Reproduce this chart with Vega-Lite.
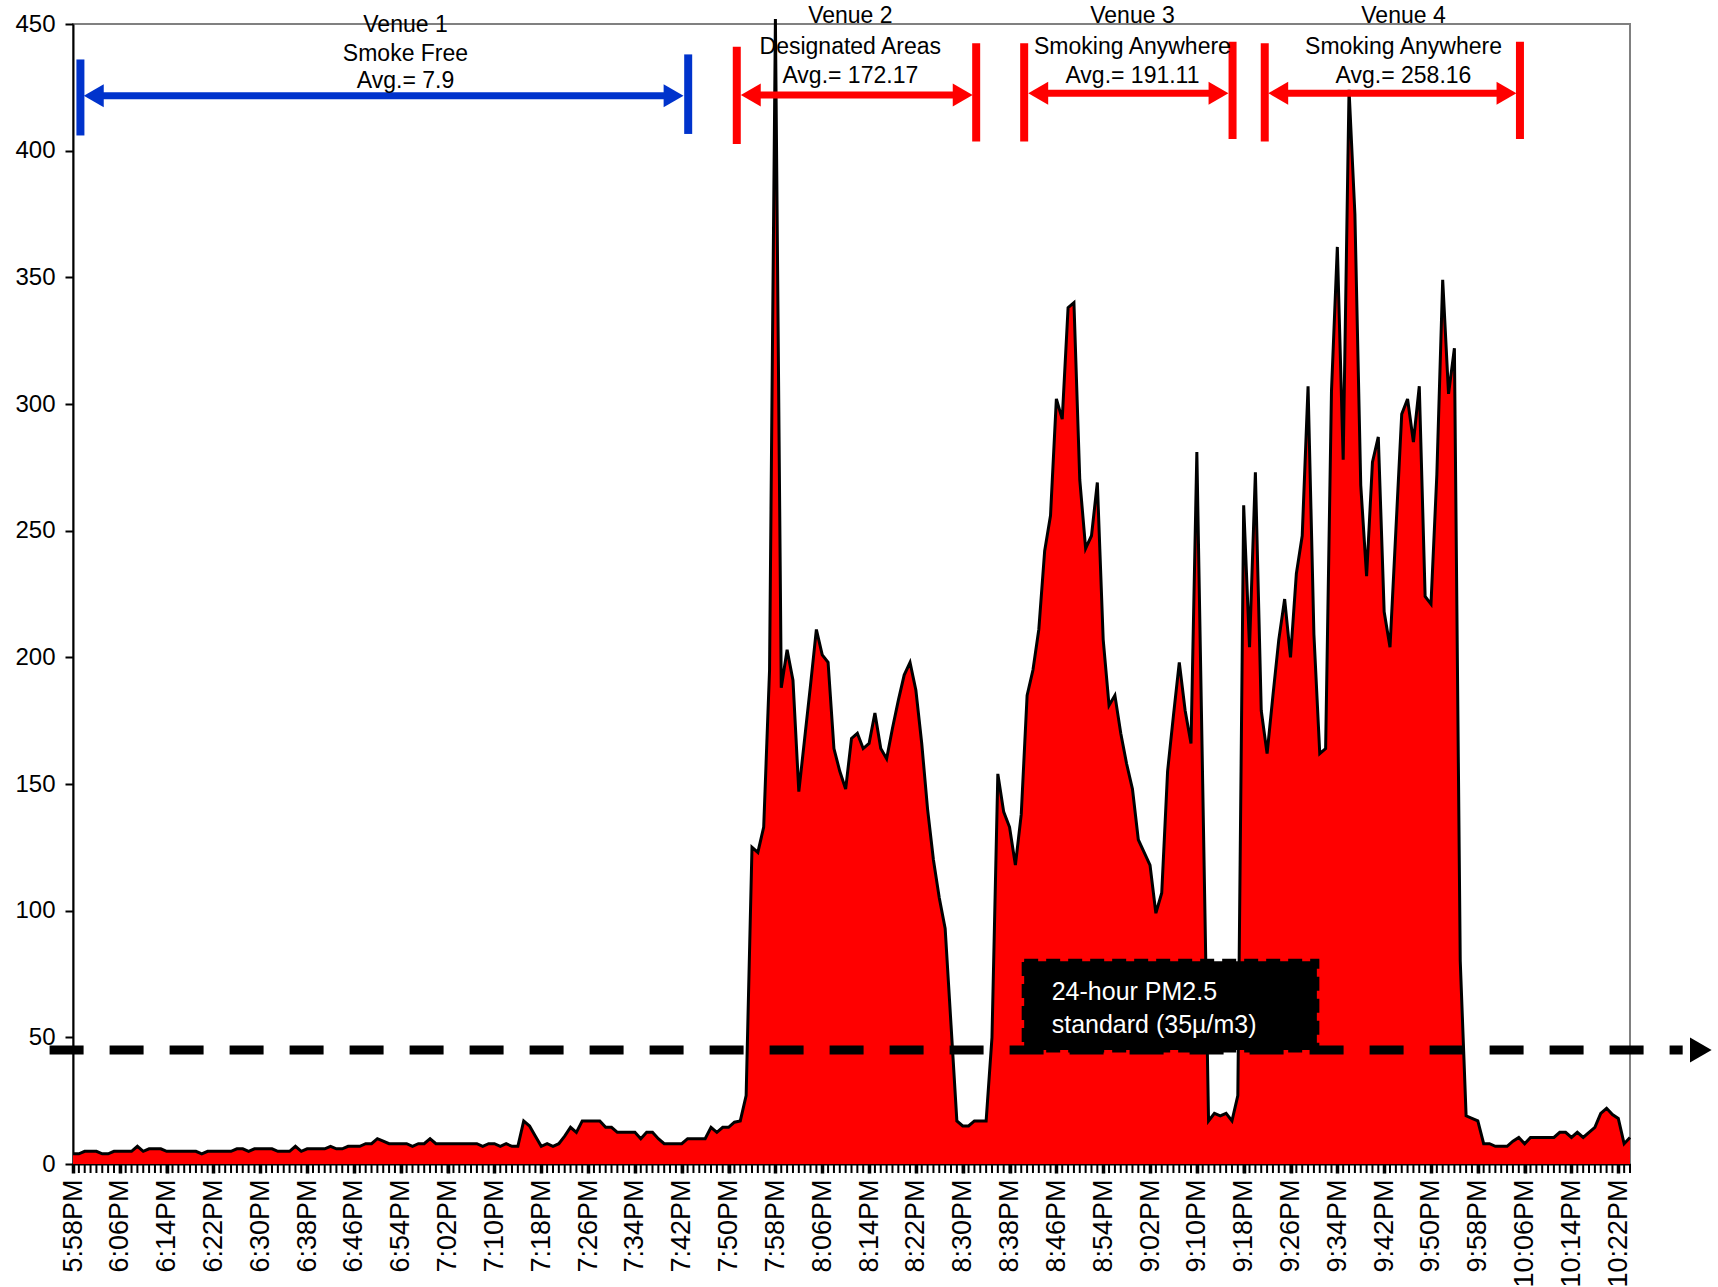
{
"$schema": "https://vega.github.io/schema/vega-lite/v6.json",
"width": 1557, "height": 1140, "autosize": "none",
"padding": {"left": 73, "top": 24, "right": 88, "bottom": 123},
"background": "white",
"config": {"view": {"stroke": "#808080", "strokeWidth": 2}, "font": "Liberation Sans"},
"encoding": {
  "x": {"field": "t", "type": "temporal", "title": null,
    "scale": {"type": "utc", "domain": [{"year": 1900, "month": 1, "date": 1, "hours": 17, "minutes": 58, "utc": true}, {"year": 1900, "month": 1, "date": 1, "hours": 22, "minutes": 24, "utc": true}]},
    "axis": {"format": "%-I:%M%p", "labelAngle": -90, "labelFontSize": 27, "labelFont": "Liberation Sans", "labelColor": "black",
      "values": [
        {"year": 1900, "month": 1, "date": 1, "hours": 17, "minutes": 58, "utc": true},
        {"year": 1900, "month": 1, "date": 1, "hours": 18, "minutes": 6, "utc": true},
        {"year": 1900, "month": 1, "date": 1, "hours": 18, "minutes": 14, "utc": true},
        {"year": 1900, "month": 1, "date": 1, "hours": 18, "minutes": 22, "utc": true},
        {"year": 1900, "month": 1, "date": 1, "hours": 18, "minutes": 30, "utc": true},
        {"year": 1900, "month": 1, "date": 1, "hours": 18, "minutes": 38, "utc": true},
        {"year": 1900, "month": 1, "date": 1, "hours": 18, "minutes": 46, "utc": true},
        {"year": 1900, "month": 1, "date": 1, "hours": 18, "minutes": 54, "utc": true},
        {"year": 1900, "month": 1, "date": 1, "hours": 19, "minutes": 2, "utc": true},
        {"year": 1900, "month": 1, "date": 1, "hours": 19, "minutes": 10, "utc": true},
        {"year": 1900, "month": 1, "date": 1, "hours": 19, "minutes": 18, "utc": true},
        {"year": 1900, "month": 1, "date": 1, "hours": 19, "minutes": 26, "utc": true},
        {"year": 1900, "month": 1, "date": 1, "hours": 19, "minutes": 34, "utc": true},
        {"year": 1900, "month": 1, "date": 1, "hours": 19, "minutes": 42, "utc": true},
        {"year": 1900, "month": 1, "date": 1, "hours": 19, "minutes": 50, "utc": true},
        {"year": 1900, "month": 1, "date": 1, "hours": 19, "minutes": 58, "utc": true},
        {"year": 1900, "month": 1, "date": 1, "hours": 20, "minutes": 6, "utc": true},
        {"year": 1900, "month": 1, "date": 1, "hours": 20, "minutes": 14, "utc": true},
        {"year": 1900, "month": 1, "date": 1, "hours": 20, "minutes": 22, "utc": true},
        {"year": 1900, "month": 1, "date": 1, "hours": 20, "minutes": 30, "utc": true},
        {"year": 1900, "month": 1, "date": 1, "hours": 20, "minutes": 38, "utc": true},
        {"year": 1900, "month": 1, "date": 1, "hours": 20, "minutes": 46, "utc": true},
        {"year": 1900, "month": 1, "date": 1, "hours": 20, "minutes": 54, "utc": true},
        {"year": 1900, "month": 1, "date": 1, "hours": 21, "minutes": 2, "utc": true},
        {"year": 1900, "month": 1, "date": 1, "hours": 21, "minutes": 10, "utc": true},
        {"year": 1900, "month": 1, "date": 1, "hours": 21, "minutes": 18, "utc": true},
        {"year": 1900, "month": 1, "date": 1, "hours": 21, "minutes": 26, "utc": true},
        {"year": 1900, "month": 1, "date": 1, "hours": 21, "minutes": 34, "utc": true},
        {"year": 1900, "month": 1, "date": 1, "hours": 21, "minutes": 42, "utc": true},
        {"year": 1900, "month": 1, "date": 1, "hours": 21, "minutes": 50, "utc": true},
        {"year": 1900, "month": 1, "date": 1, "hours": 21, "minutes": 58, "utc": true},
        {"year": 1900, "month": 1, "date": 1, "hours": 22, "minutes": 6, "utc": true},
        {"year": 1900, "month": 1, "date": 1, "hours": 22, "minutes": 14, "utc": true},
        {"year": 1900, "month": 1, "date": 1, "hours": 22, "minutes": 22, "utc": true}
      ],
      "labelOverlap": false, "labelBound": false, "labelFlush": false, "labelPadding": 6,
      "tickSize": 9, "tickColor": "black", "tickWidth": 3.5,
      "domainColor": "black", "domainWidth": 2, "grid": false}}
},
"layer": [
{
  "data": {"format": {"parse": {"t": "utc:'%H:%M'"}}, "values": [
{"t":"17:58","pm":4},{"t":"17:59","pm":4},
{"t":"18:00","pm":5},{"t":"18:01","pm":5},{"t":"18:02","pm":5},{"t":"18:03","pm":4},{"t":"18:04","pm":4},{"t":"18:05","pm":5},{"t":"18:06","pm":5},{"t":"18:07","pm":5},{"t":"18:08","pm":5},{"t":"18:09","pm":7},
{"t":"18:10","pm":5},{"t":"18:11","pm":6},{"t":"18:12","pm":6},{"t":"18:13","pm":6},{"t":"18:14","pm":5},{"t":"18:15","pm":5},{"t":"18:16","pm":5},{"t":"18:17","pm":5},{"t":"18:18","pm":5},{"t":"18:19","pm":5},
{"t":"18:20","pm":4},{"t":"18:21","pm":5},{"t":"18:22","pm":5},{"t":"18:23","pm":5},{"t":"18:24","pm":5},{"t":"18:25","pm":5},{"t":"18:26","pm":6},{"t":"18:27","pm":6},{"t":"18:28","pm":5},{"t":"18:29","pm":6},
{"t":"18:30","pm":6},{"t":"18:31","pm":6},{"t":"18:32","pm":6},{"t":"18:33","pm":5},{"t":"18:34","pm":5},{"t":"18:35","pm":5},{"t":"18:36","pm":7},{"t":"18:37","pm":5},{"t":"18:38","pm":6},{"t":"18:39","pm":6},
{"t":"18:40","pm":6},{"t":"18:41","pm":6},{"t":"18:42","pm":7},{"t":"18:43","pm":6},{"t":"18:44","pm":6},{"t":"18:45","pm":7},{"t":"18:46","pm":7},{"t":"18:47","pm":7},{"t":"18:48","pm":8},{"t":"18:49","pm":8},
{"t":"18:50","pm":10},{"t":"18:51","pm":9},{"t":"18:52","pm":8},{"t":"18:53","pm":8},{"t":"18:54","pm":8},{"t":"18:55","pm":8},{"t":"18:56","pm":7},{"t":"18:57","pm":8},{"t":"18:58","pm":8},{"t":"18:59","pm":10},
{"t":"19:00","pm":8},{"t":"19:01","pm":8},{"t":"19:02","pm":8},{"t":"19:03","pm":8},{"t":"19:04","pm":8},{"t":"19:05","pm":8},{"t":"19:06","pm":8},{"t":"19:07","pm":8},{"t":"19:08","pm":7},{"t":"19:09","pm":8},
{"t":"19:10","pm":8},{"t":"19:11","pm":7},{"t":"19:12","pm":8},{"t":"19:13","pm":7},{"t":"19:14","pm":7},{"t":"19:15","pm":17},{"t":"19:16","pm":15},{"t":"19:17","pm":11},{"t":"19:18","pm":7},{"t":"19:19","pm":8},
{"t":"19:20","pm":7},{"t":"19:21","pm":8},{"t":"19:22","pm":11},{"t":"19:23","pm":14.5},{"t":"19:24","pm":12.5},{"t":"19:25","pm":17},{"t":"19:26","pm":17},{"t":"19:27","pm":17},{"t":"19:28","pm":17},{"t":"19:29","pm":14.5},
{"t":"19:30","pm":14.5},{"t":"19:31","pm":12.5},{"t":"19:32","pm":12.5},{"t":"19:33","pm":12.5},{"t":"19:34","pm":12.5},{"t":"19:35","pm":10},{"t":"19:36","pm":12.5},{"t":"19:37","pm":12.5},{"t":"19:38","pm":10},{"t":"19:39","pm":8},
{"t":"19:40","pm":8},{"t":"19:41","pm":8},{"t":"19:42","pm":8},{"t":"19:43","pm":10},{"t":"19:44","pm":10},{"t":"19:45","pm":10},{"t":"19:46","pm":10},{"t":"19:47","pm":14.5},{"t":"19:48","pm":12.5},{"t":"19:49","pm":14.5},
{"t":"19:50","pm":14.5},{"t":"19:51","pm":16.5},{"t":"19:52","pm":17},{"t":"19:53","pm":27},{"t":"19:54","pm":125},{"t":"19:55","pm":123},{"t":"19:56","pm":133},{"t":"19:57","pm":195},{"t":"19:58","pm":452},{"t":"19:59","pm":188},
{"t":"20:00","pm":203},{"t":"20:01","pm":191},{"t":"20:02","pm":147},{"t":"20:03","pm":168},{"t":"20:04","pm":189},{"t":"20:05","pm":211},{"t":"20:06","pm":201},{"t":"20:07","pm":198},{"t":"20:08","pm":164},{"t":"20:09","pm":155},
{"t":"20:10","pm":148},{"t":"20:11","pm":168},{"t":"20:12","pm":170},{"t":"20:13","pm":164},{"t":"20:14","pm":166},{"t":"20:15","pm":178},{"t":"20:16","pm":164},{"t":"20:17","pm":160},{"t":"20:18","pm":172},{"t":"20:19","pm":183},
{"t":"20:20","pm":193},{"t":"20:21","pm":198},{"t":"20:22","pm":187},{"t":"20:23","pm":166},{"t":"20:24","pm":140},{"t":"20:25","pm":120},{"t":"20:26","pm":105},{"t":"20:27","pm":93},{"t":"20:28","pm":55},{"t":"20:29","pm":17},
{"t":"20:30","pm":15},{"t":"20:31","pm":15},{"t":"20:32","pm":17},{"t":"20:33","pm":17},{"t":"20:34","pm":17},{"t":"20:35","pm":50},{"t":"20:36","pm":154},{"t":"20:37","pm":139},{"t":"20:38","pm":133},{"t":"20:39","pm":118},
{"t":"20:40","pm":138},{"t":"20:41","pm":185},{"t":"20:42","pm":195},{"t":"20:43","pm":211},{"t":"20:44","pm":242},{"t":"20:45","pm":256},{"t":"20:46","pm":302},{"t":"20:47","pm":294},{"t":"20:48","pm":338},{"t":"20:49","pm":340},
{"t":"20:50","pm":270},{"t":"20:51","pm":243},{"t":"20:52","pm":248},{"t":"20:53","pm":269},{"t":"20:54","pm":207},{"t":"20:55","pm":181},{"t":"20:56","pm":185},{"t":"20:57","pm":170},{"t":"20:58","pm":158},{"t":"20:59","pm":148},
{"t":"21:00","pm":128},{"t":"21:01","pm":123},{"t":"21:02","pm":118},{"t":"21:03","pm":99},{"t":"21:04","pm":107},{"t":"21:05","pm":155},{"t":"21:06","pm":177},{"t":"21:07","pm":198},{"t":"21:08","pm":179},{"t":"21:09","pm":166},
{"t":"21:10","pm":281},{"t":"21:11","pm":150},{"t":"21:12","pm":17},{"t":"21:13","pm":20},{"t":"21:14","pm":19},{"t":"21:15","pm":20},{"t":"21:16","pm":17},{"t":"21:17","pm":27},{"t":"21:18","pm":260},{"t":"21:19","pm":204},
{"t":"21:20","pm":273},{"t":"21:21","pm":179},{"t":"21:22","pm":162},{"t":"21:23","pm":185},{"t":"21:24","pm":207},{"t":"21:25","pm":223},{"t":"21:26","pm":200},{"t":"21:27","pm":233},{"t":"21:28","pm":248},{"t":"21:29","pm":307},
{"t":"21:30","pm":209},{"t":"21:31","pm":162},{"t":"21:32","pm":164},{"t":"21:33","pm":305},{"t":"21:34","pm":362},{"t":"21:35","pm":278},{"t":"21:36","pm":424},{"t":"21:37","pm":375},{"t":"21:38","pm":268},{"t":"21:39","pm":232},
{"t":"21:40","pm":277},{"t":"21:41","pm":287},{"t":"21:42","pm":218},{"t":"21:43","pm":204},{"t":"21:44","pm":250},{"t":"21:45","pm":296},{"t":"21:46","pm":302},{"t":"21:47","pm":285},{"t":"21:48","pm":307},{"t":"21:49","pm":224},
{"t":"21:50","pm":221},{"t":"21:51","pm":272},{"t":"21:52","pm":349},{"t":"21:53","pm":304},{"t":"21:54","pm":322},{"t":"21:55","pm":80},{"t":"21:56","pm":19},{"t":"21:57","pm":18},{"t":"21:58","pm":17},{"t":"21:59","pm":8},
{"t":"22:00","pm":8},{"t":"22:01","pm":7},{"t":"22:02","pm":7},{"t":"22:03","pm":7},{"t":"22:04","pm":9},{"t":"22:05","pm":10.5},{"t":"22:06","pm":8},{"t":"22:07","pm":10.5},{"t":"22:08","pm":10.5},{"t":"22:09","pm":10.5},
{"t":"22:10","pm":10.5},{"t":"22:11","pm":10.5},{"t":"22:12","pm":12.5},{"t":"22:13","pm":12.5},{"t":"22:14","pm":10.5},{"t":"22:15","pm":12.5},{"t":"22:16","pm":10.5},{"t":"22:17","pm":12.5},{"t":"22:18","pm":14.5},{"t":"22:19","pm":20},
{"t":"22:20","pm":22},{"t":"22:21","pm":19.5},{"t":"22:22","pm":18},{"t":"22:23","pm":8},{"t":"22:24","pm":10.5}
  ]},
  "layer": [
    {
      "mark": {"type": "area", "color": "#FF0000", "opacity": 1, "line": {"color": "black", "strokeWidth": 3}},
      "encoding": {
        "y": {"field": "pm", "type": "quantitative", "title": null,
          "scale": {"domain": [0, 450], "nice": false},
          "axis": {"values": [0, 50, 100, 150, 200, 250, 300, 350, 400, 450], "labelFontSize": 24, "labelFont": "Liberation Sans", "labelColor": "black", "tickSize": 8, "tickWidth": 2, "tickColor": "black", "labelPadding": 10, "domainColor": "black", "domainWidth": 2, "grid": false}}
      }
    },
    {
      "mark": {"type": "tick", "orient": "vertical", "color": "black", "thickness": 2, "size": 9, "yOffset": 4.5, "opacity": 1},
      "encoding": {"y": {"datum": 0, "type": "quantitative"}}
    }
  ]
},
{
  "data": {"format": {"parse": {"t": "utc:'%H:%M:%S'", "t2": "utc:'%H:%M:%S'"}}, "values": [{"t": "17:54:00", "t2": "22:33:00", "y": 45}]},
  "mark": {"type": "rule", "color": "black", "strokeWidth": 9, "strokeDash": [34, 26]},
  "encoding": {"x2": {"field": "t2"}, "y": {"field": "y", "type": "quantitative", "title": null}}
},
{
  "data": {"format": {"parse": {"t": "utc:'%H:%M:%S'"}}, "values": [{"t": "22:36:06", "y": 45}]},
  "mark": {"type": "point", "shape": "triangle-right", "size": 625, "filled": true, "color": "black", "opacity": 1, "strokeWidth": 0},
  "encoding": {"y": {"field": "y", "type": "quantitative", "title": null}}
},
{
  "data": {"format": {"parse": {"t": "utc:'%H:%M:%S'", "t2": "utc:'%H:%M:%S'"}}, "values": [{"t": "20:40:30", "t2": "21:30:30", "y": 80, "y2": 45}]},
  "mark": {"type": "rect", "fill": "black", "stroke": "black", "strokeWidth": 5, "strokeDash": [14, 8]},
  "encoding": {"x2": {"field": "t2"}, "y": {"field": "y", "type": "quantitative", "title": null}, "y2": {"field": "y2"}}
},
{
  "data": {"format": {"parse": {"t": "utc:'%H:%M:%S'"}}, "values": [{"t": "20:45:12", "y": 68, "label": "24-hour PM2.5"}, {"t": "20:45:12", "y": 55, "label": "standard (35µ/m3)"}]},
  "mark": {"type": "text", "color": "white", "align": "left", "baseline": "middle", "fontSize": 25, "font": "Liberation Sans"},
  "encoding": {"y": {"field": "y", "type": "quantitative", "title": null}, "text": {"field": "label"}}
},
{
  "data": {"format": {"parse": {"t": "utc:'%H:%M:%S'"}}, "values": [
    {"t": "17:59:16", "y": 406, "y2": 436, "venue": "Venue 1"},
    {"t": "19:43:06", "y": 406.6, "y2": 438, "venue": "Venue 1"},
    {"t": "19:51:24", "y": 402.6, "y2": 441, "venue": "Venue 2"},
    {"t": "20:32:18", "y": 403.6, "y2": 442.4, "venue": "Venue 2"},
    {"t": "20:40:30", "y": 403.6, "y2": 442.4, "venue": "Venue 3"},
    {"t": "21:16:06", "y": 404.6, "y2": 443, "venue": "Venue 3"},
    {"t": "21:21:36", "y": 403.6, "y2": 442.4, "venue": "Venue 4"},
    {"t": "22:05:12", "y": 404.6, "y2": 443, "venue": "Venue 4"}
  ]},
  "mark": {"type": "rule", "strokeWidth": 8},
  "encoding": {"y": {"field": "y", "type": "quantitative", "title": null}, "y2": {"field": "y2"},
    "color": {"field": "venue", "type": "nominal", "scale": {"domain": ["Venue 1", "Venue 2", "Venue 3", "Venue 4"], "range": ["#0033CC", "#FF0000", "#FF0000", "#FF0000"]}, "legend": null}}
},
{
  "data": {"format": {"parse": {"t": "utc:'%H:%M:%S'", "t2": "utc:'%H:%M:%S'"}}, "values": [
    {"t": "18:01:51", "t2": "19:40:18", "y": 421.7, "venue": "Venue 1"},
    {"t": "19:54:06", "t2": "20:29:42", "y": 422, "venue": "Venue 2"},
    {"t": "20:43:12", "t2": "21:13:24", "y": 422.7, "venue": "Venue 3"},
    {"t": "21:24:12", "t2": "22:02:36", "y": 422.7, "venue": "Venue 4"}
  ]},
  "mark": {"type": "rule", "strokeWidth": 7},
  "encoding": {"x2": {"field": "t2"}, "y": {"field": "y", "type": "quantitative", "title": null},
    "color": {"field": "venue", "type": "nominal", "legend": null}}
},
{
  "data": {"format": {"parse": {"t": "utc:'%H:%M:%S'"}}, "values": [
    {"t": "18:01:33", "y": 421.7, "venue": "Venue 1", "dir": "left"},
    {"t": "19:40:36", "y": 421.7, "venue": "Venue 1", "dir": "right"},
    {"t": "19:53:48", "y": 422, "venue": "Venue 2", "dir": "left"},
    {"t": "20:30:00", "y": 422, "venue": "Venue 2", "dir": "right"},
    {"t": "20:42:54", "y": 422.7, "venue": "Venue 3", "dir": "left"},
    {"t": "21:13:42", "y": 422.7, "venue": "Venue 3", "dir": "right"},
    {"t": "21:23:54", "y": 422.7, "venue": "Venue 4", "dir": "left"},
    {"t": "22:02:54", "y": 422.7, "venue": "Venue 4", "dir": "right"}
  ]},
  "mark": {"type": "point", "filled": true, "opacity": 1, "size": 529, "strokeWidth": 0},
  "encoding": {"y": {"field": "y", "type": "quantitative", "title": null},
    "color": {"field": "venue", "type": "nominal", "legend": null},
    "shape": {"field": "dir", "type": "nominal", "scale": {"domain": ["left", "right"], "range": ["triangle-left", "triangle-right"]}, "legend": null}}
},
{
  "data": {"format": {"parse": {"t": "utc:'%H:%M:%S'"}}, "values": [
    {"t": "18:54:48", "y": 449.7, "label": "Venue 1"},
    {"t": "18:54:48", "y": 438.2, "label": "Smoke Free"},
    {"t": "18:54:48", "y": 427.6, "label": "Avg.= 7.9"},
    {"t": "20:10:48", "y": 453, "label": "Venue 2"},
    {"t": "20:10:48", "y": 441, "label": "Designated Areas"},
    {"t": "20:10:48", "y": 429.6, "label": "Avg.= 172.17"},
    {"t": "20:59:00", "y": 453, "label": "Venue 3"},
    {"t": "20:59:00", "y": 441, "label": "Smoking Anywhere"},
    {"t": "20:59:00", "y": 429.6, "label": "Avg.= 191.11"},
    {"t": "21:45:18", "y": 453, "label": "Venue 4"},
    {"t": "21:45:18", "y": 441, "label": "Smoking Anywhere"},
    {"t": "21:45:18", "y": 429.6, "label": "Avg.= 258.16"}
  ]},
  "mark": {"type": "text", "color": "black", "align": "center", "baseline": "middle", "fontSize": 23, "font": "Liberation Sans"},
  "encoding": {"y": {"field": "y", "type": "quantitative", "title": null}, "text": {"field": "label"}}
}
]
}
